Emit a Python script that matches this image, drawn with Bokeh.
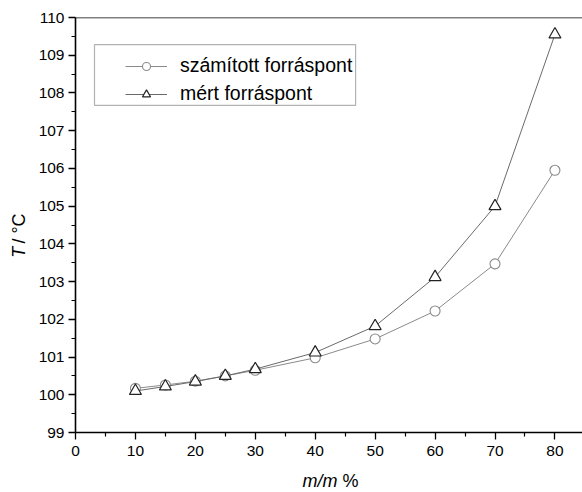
from math import pi
from bokeh.plotting import figure
from bokeh.layouts import row, column
from bokeh.models import Label, Legend, LegendItem, FixedTicker, Span, BoxAnnotation, Range1d
from bokeh.embed import file_html
from bokeh.resources import INLINE

# ---- data ----
mass_pct = [10, 15, 20, 25, 30, 40, 50, 60, 70, 80]
calc_bp = [100.17, 100.26, 100.36, 100.50, 100.65, 100.98, 101.48, 102.22, 103.47, 105.95]
meas_bp = [100.10, 100.22, 100.35, 100.50, 100.68, 101.12, 101.82, 103.12, 105.00, 109.55]
series_labels = ["számított forráspont", "mért forráspont"]

x_ticks = [0, 10, 20, 30, 40, 50, 60, 70, 80]
x_minor = [5, 15, 25, 35, 45, 55, 65, 75, 85]
y_ticks = [99, 100, 101, 102, 103, 104, 105, 106, 107, 108, 109, 110]
y_minor = [99.5, 100.5, 101.5, 102.5, 103.5, 104.5, 105.5, 106.5, 107.5, 108.5, 109.5]

FONT = "Liberation Sans"
TITLE_W = 30      # strip holding the y-axis title
MAIN_W, MAIN_H = 552, 468
XT_H = 23         # strip holding the x-axis title


def blank(width, height):
    f = figure(width=width, height=height, x_range=Range1d(0, width), y_range=Range1d(0, height),
               output_backend="svg", toolbar_location=None,
               min_border=0, min_border_left=0, min_border_right=0,
               min_border_top=0, min_border_bottom=0)
    f.axis.visible = False
    f.grid.visible = False
    f.outline_line_color = None
    return f


p = figure(width=MAIN_W, height=MAIN_H,
           x_range=Range1d(0, 84.6), y_range=Range1d(99, 110),
           output_backend="svg", toolbar_location=None,
           min_border_left=45, min_border_right=0,
           min_border_top=17, min_border_bottom=36)
p.xgrid.visible = False
p.ygrid.visible = False
p.outline_line_color = None

p.xaxis.ticker = FixedTicker(ticks=x_ticks, minor_ticks=x_minor)
p.yaxis.ticker = FixedTicker(ticks=y_ticks, minor_ticks=y_minor)
for ax in (p.xaxis, p.yaxis):
    ax.axis_line_width = 1.6
    ax.axis_line_color = "black"
    ax.major_tick_line_color = "black"
    ax.minor_tick_line_color = "black"
    ax.major_tick_line_width = 1.3
    ax.minor_tick_line_width = 1.2
    ax.major_tick_in = 0
    ax.major_tick_out = 7
    ax.minor_tick_in = 0
    ax.minor_tick_out = 4
    ax.major_label_text_font = FONT
    ax.major_label_text_font_size = "15.5px"
    ax.major_label_text_color = "black"
p.xaxis.major_label_standoff = 6
p.yaxis.major_label_standoff = 4

# top frame line
p.add_layout(Span(location=110, dimension="width", line_color="black", line_width=1.6))

# series
l1 = p.line(mass_pct, calc_bp, line_color="#8a8a8a", line_width=1)
s1 = p.scatter(mass_pct, calc_bp, marker="circle", size=10,
               fill_color="white", line_color="#8a8a8a", line_width=1.1)
l2 = p.line(mass_pct, meas_bp, line_color="#6a6a6a", line_width=1)
s2 = p.scatter(mass_pct, meas_bp, marker="triangle", size=12,
               fill_color="white", line_color="#222222", line_width=1.2)

legend = Legend(items=[LegendItem(label=series_labels[0], renderers=[l1, s1]),
                       LegendItem(label=series_labels[1], renderers=[l2, s2])],
                location=(50, 327), padding=0, spacing=5,
                glyph_width=42, glyph_height=20, label_height=20,
                label_standoff=13,
                label_text_font=FONT, label_text_font_size="19.5px",
                label_text_color="black",
                border_line_color=None, background_fill_alpha=0)
p.add_layout(legend)
p.add_layout(BoxAnnotation(left=3.17, right=46.74, top=109.28, bottom=107.67,
                           fill_color=None, line_color="black", line_width=1.2))

# y-axis title strip: "T / °C" (T italic)
yt = blank(TITLE_W, MAIN_H)
yt.add_layout(Label(x=18, y=197, text="T", angle=pi / 2,
                    text_font=FONT, text_font_style="italic", text_font_size="18px",
                    text_align="left", text_baseline="middle", text_color="black"))
yt.add_layout(Label(x=18, y=213, text="/ °C", angle=pi / 2,
                    text_font=FONT, text_font_size="18px",
                    text_align="left", text_baseline="middle", text_color="black"))

# x-axis title strip: "m/m %" (m/m italic)
xt = blank(TITLE_W + MAIN_W, XT_H)
xt.add_layout(Label(x=302, y=11, text="m/m", text_font=FONT,
                    text_font_style="italic", text_font_size="18px",
                    text_align="left", text_baseline="middle", text_color="black"))
xt.add_layout(Label(x=342, y=11, text="%", text_font=FONT,
                    text_font_size="18px",
                    text_align="left", text_baseline="middle", text_color="black"))

layout = column(row(yt, p, spacing=0), xt, spacing=0)

open("out.html", "w").write(file_html(layout, INLINE))
